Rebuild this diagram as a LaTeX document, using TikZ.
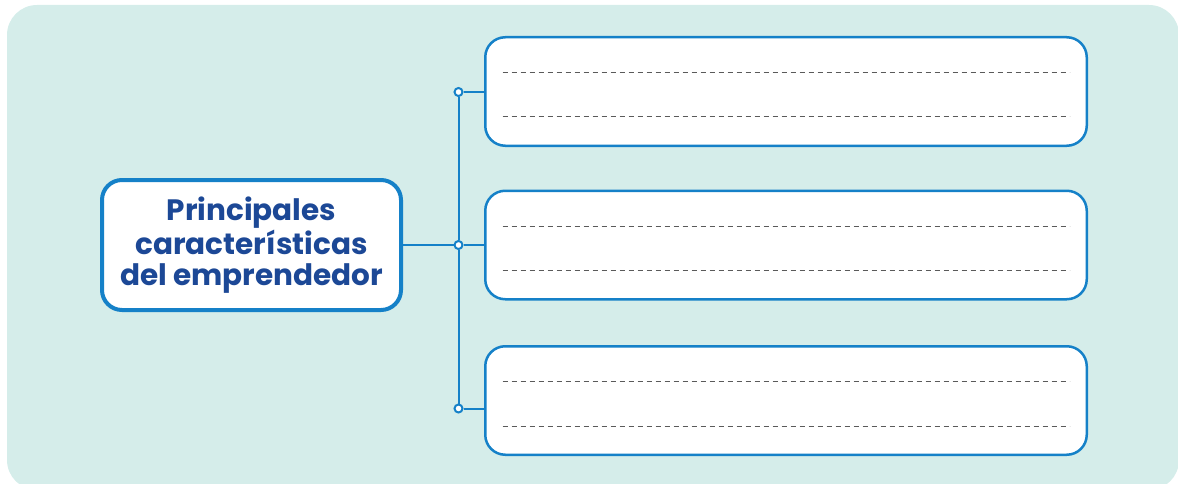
\documentclass[tikz,border=0pt]{standalone}
\usepackage{fontspec}
\newfontfamily\titlefont{Poppins}
\definecolor{bgteal}{HTML}{D5EDEA}
\definecolor{lineblue}{HTML}{1581C8}
\definecolor{textblue}{HTML}{1C4896}
\definecolor{dashgray}{HTML}{5A5A5A}
\tikzset{
  panel/.style={draw=lineblue, fill=white, rounded corners=20pt, line width=2.5pt, minimum width=601.5pt, minimum height=108.5pt, inner sep=0pt},
  mainbox/.style={draw=lineblue, fill=white, rounded corners=20pt, line width=4pt, minimum width=299pt, minimum height=130pt, inner sep=0pt, align=center, text=textblue, font=\titlefont\bfseries\fontsize{29.5}{31}\selectfont},
  joint/.style={circle, draw=lineblue, fill=white, line width=2pt, minimum size=8pt, inner sep=0pt},
  link/.style={draw=lineblue, line width=2pt},
  writeline/.style={draw=dashgray, line width=1pt, dash pattern=on 5pt off 4pt}
}
\begin{document}
\begin{tikzpicture}[x=1pt,y=1pt]
\useasboundingbox (0,0) rectangle (1178,483);
\fill[bgteal, rounded corners=30pt] (7,-7) rectangle (1179,478);
\node[mainbox] (main) at (251.5,238) {Principales\\características\\del emprendedor};
\node[panel] (b1) at (786,391.5) {};
\node[panel] (b2) at (786,238) {};
\node[panel] (b3) at (786,82.5) {};
\node[joint] (c1) at (458.5,391) {};
\node[joint] (c2) at (458.5,238) {};
\node[joint] (c3) at (458.5,74.5) {};
\draw[link] (c1.south) -- (c2.north);
\draw[link] (c2.south) -- (c3.north);
\draw[link] (main.east) -- (c2.west);
\draw[link] (c1.east) -- (c1.east -| b1.west);
\draw[link] (c2.east) -- (c2.east -| b2.west);
\draw[link] (c3.east) -- (c3.east -| b3.west);
\foreach \b in {b1,b2,b3}{
  \draw[writeline] ([shift={(18.5,19)}]\b.west) -- ([shift={(-18.5,19)}]\b.east);
  \draw[writeline] ([shift={(18.5,-25.5)}]\b.west) -- ([shift={(-18.5,-25.5)}]\b.east);
}
\end{tikzpicture}
\end{document}
